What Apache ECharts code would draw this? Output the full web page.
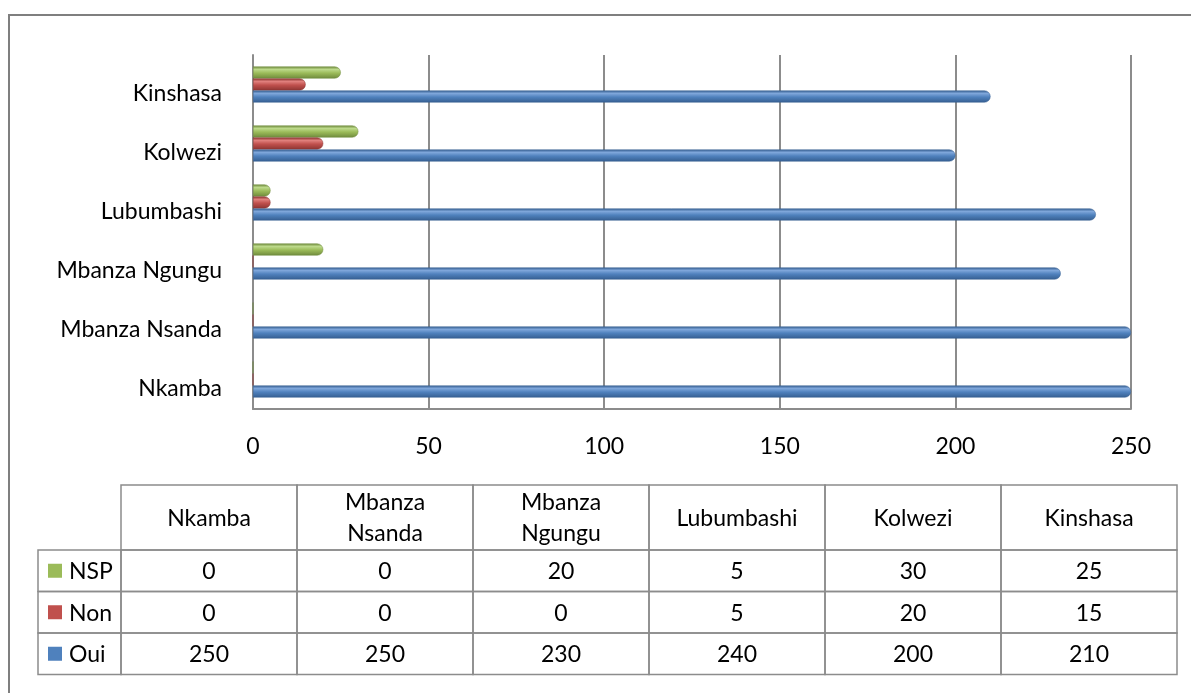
<!DOCTYPE html>
<html>
<head>
<meta charset="utf-8">
<script src="https://cdn.jsdelivr.net/npm/echarts@6/dist/echarts.min.js"></script>
<style>
  html, body { margin: 0; padding: 0; background: #fff; }
  #chart { width: 1191px; height: 693px; }
</style>
</head>
<body>
<div id="chart"></div>
<script>
// data
const cities = ['Nkamba', 'Mbanza Nsanda', 'Mbanza Ngungu', 'Lubumbashi', 'Kolwezi', 'Kinshasa']
const headerLabels = ['Nkamba', 'Mbanza\nNsanda', 'Mbanza\nNgungu', 'Lubumbashi', 'Kolwezi', 'Kinshasa']
const oui = [250, 250, 230, 240, 200, 210]
const non = [0, 0, 0, 5, 20, 15]
const nsp = [0, 0, 20, 5, 30, 25]
const xTicks = [0, 50, 100, 150, 200, 250]

const FONT = 'Lato'
const FS = 23
const colors = {
  Oui: ['#7ea6da', '#4f81bd', '#365f91'],
  Non: ['#e07f7c', '#c0504d', '#8c3532'],
  NSP: ['#bcd98a', '#9bbb59', '#6f8a3c']
}

function cylinder(c) {
  return new echarts.graphic.LinearGradient(0, 0, 0, 1, [
    { offset: 0, color: c[2] },
    { offset: 0.25, color: c[0] },
    { offset: 0.55, color: c[1] },
    { offset: 1, color: c[2] }
  ])
}

function barSeries(name, values) {
  return {
    name,
    type: 'bar',
    data: values,
    barWidth: 12,
    barGap: '0%',
    itemStyle: {
      color: cylinder(colors[name]),
      borderRadius: [0, 6, 6, 0],
      borderColor: colors[name][2],
      borderWidth: 0.5
    }
  }
}

// data table under the chart (legend keys + values)
const tableRows = [
  { name: 'NSP', values: nsp },
  { name: 'Non', values: non },
  { name: 'Oui', values: oui }
]
const colLeft = 121, colW = 176, headTop = 485, headH = 65, rowH = 41.5
const keyLeft = 38
const lineStyle = { fill: 'none', stroke: '#8c8c8c', lineWidth: 1.5 }
const txt = (text, x, y, align) => ({
  type: 'text',
  style: { text, x, y, align: align || 'center', verticalAlign: 'middle', font: FS + 'px ' + FONT, fill: '#000', lineHeight: 31 }
})

const graphics = [
  { type: 'rect', shape: { x: 9, y: 15, width: 1200, height: 700 }, style: { fill: 'none', stroke: '#7f7f7f', lineWidth: 2 } }
]
headerLabels.forEach((h, i) => {
  graphics.push({ type: 'rect', shape: { x: colLeft + i * colW, y: headTop, width: colW, height: headH }, style: lineStyle })
  graphics.push(txt(h, colLeft + i * colW + colW / 2, headTop + headH / 2 + 1))
})
tableRows.forEach((r, ri) => {
  const y = headTop + headH + ri * rowH
  graphics.push({ type: 'rect', shape: { x: keyLeft, y, width: colLeft - keyLeft, height: rowH }, style: lineStyle })
  graphics.push({ type: 'rect', shape: { x: 48, y: y + rowH / 2 - 7, width: 14, height: 14 }, style: { fill: colors[r.name][1] } })
  graphics.push(txt(r.name, 69, y + rowH / 2 + 1, 'left'))
  r.values.forEach((v, i) => {
    graphics.push({ type: 'rect', shape: { x: colLeft + i * colW, y, width: colW, height: rowH }, style: lineStyle })
    graphics.push(txt(String(v), colLeft + i * colW + colW / 2, y + rowH / 2 + 1))
  })
})

const chart = echarts.init(document.getElementById('chart'))
chart.setOption({
  animation: false,
  textStyle: { fontFamily: FONT },
  grid: { left: 253, width: 878, top: 55, height: 354 },
  xAxis: {
    type: 'value',
    min: xTicks[0],
    max: xTicks[xTicks.length - 1],
    interval: xTicks[1] - xTicks[0],
    axisLine: { show: true, lineStyle: { color: '#8c8c8c', width: 2 } },
    axisTick: { show: false },
    axisLabel: { fontSize: FS, color: '#000', margin: 26, fontFamily: FONT },
    splitLine: { lineStyle: { color: '#8c8c8c', width: 2 } }
  },
  yAxis: {
    type: 'category',
    data: cities,
    axisLine: { show: true, lineStyle: { color: '#8c8c8c', width: 2 } },
    axisTick: { show: false },
    axisLabel: { fontSize: FS, color: '#000', margin: 31, fontFamily: FONT, verticalAlign: 'top', lineHeight: 18 }
  },
  // first series is drawn on top within each category
  series: [
    barSeries('NSP', nsp),
    barSeries('Non', non),
    barSeries('Oui', oui)
  ],
  graphic: graphics
})
</script>
</body>
</html>
